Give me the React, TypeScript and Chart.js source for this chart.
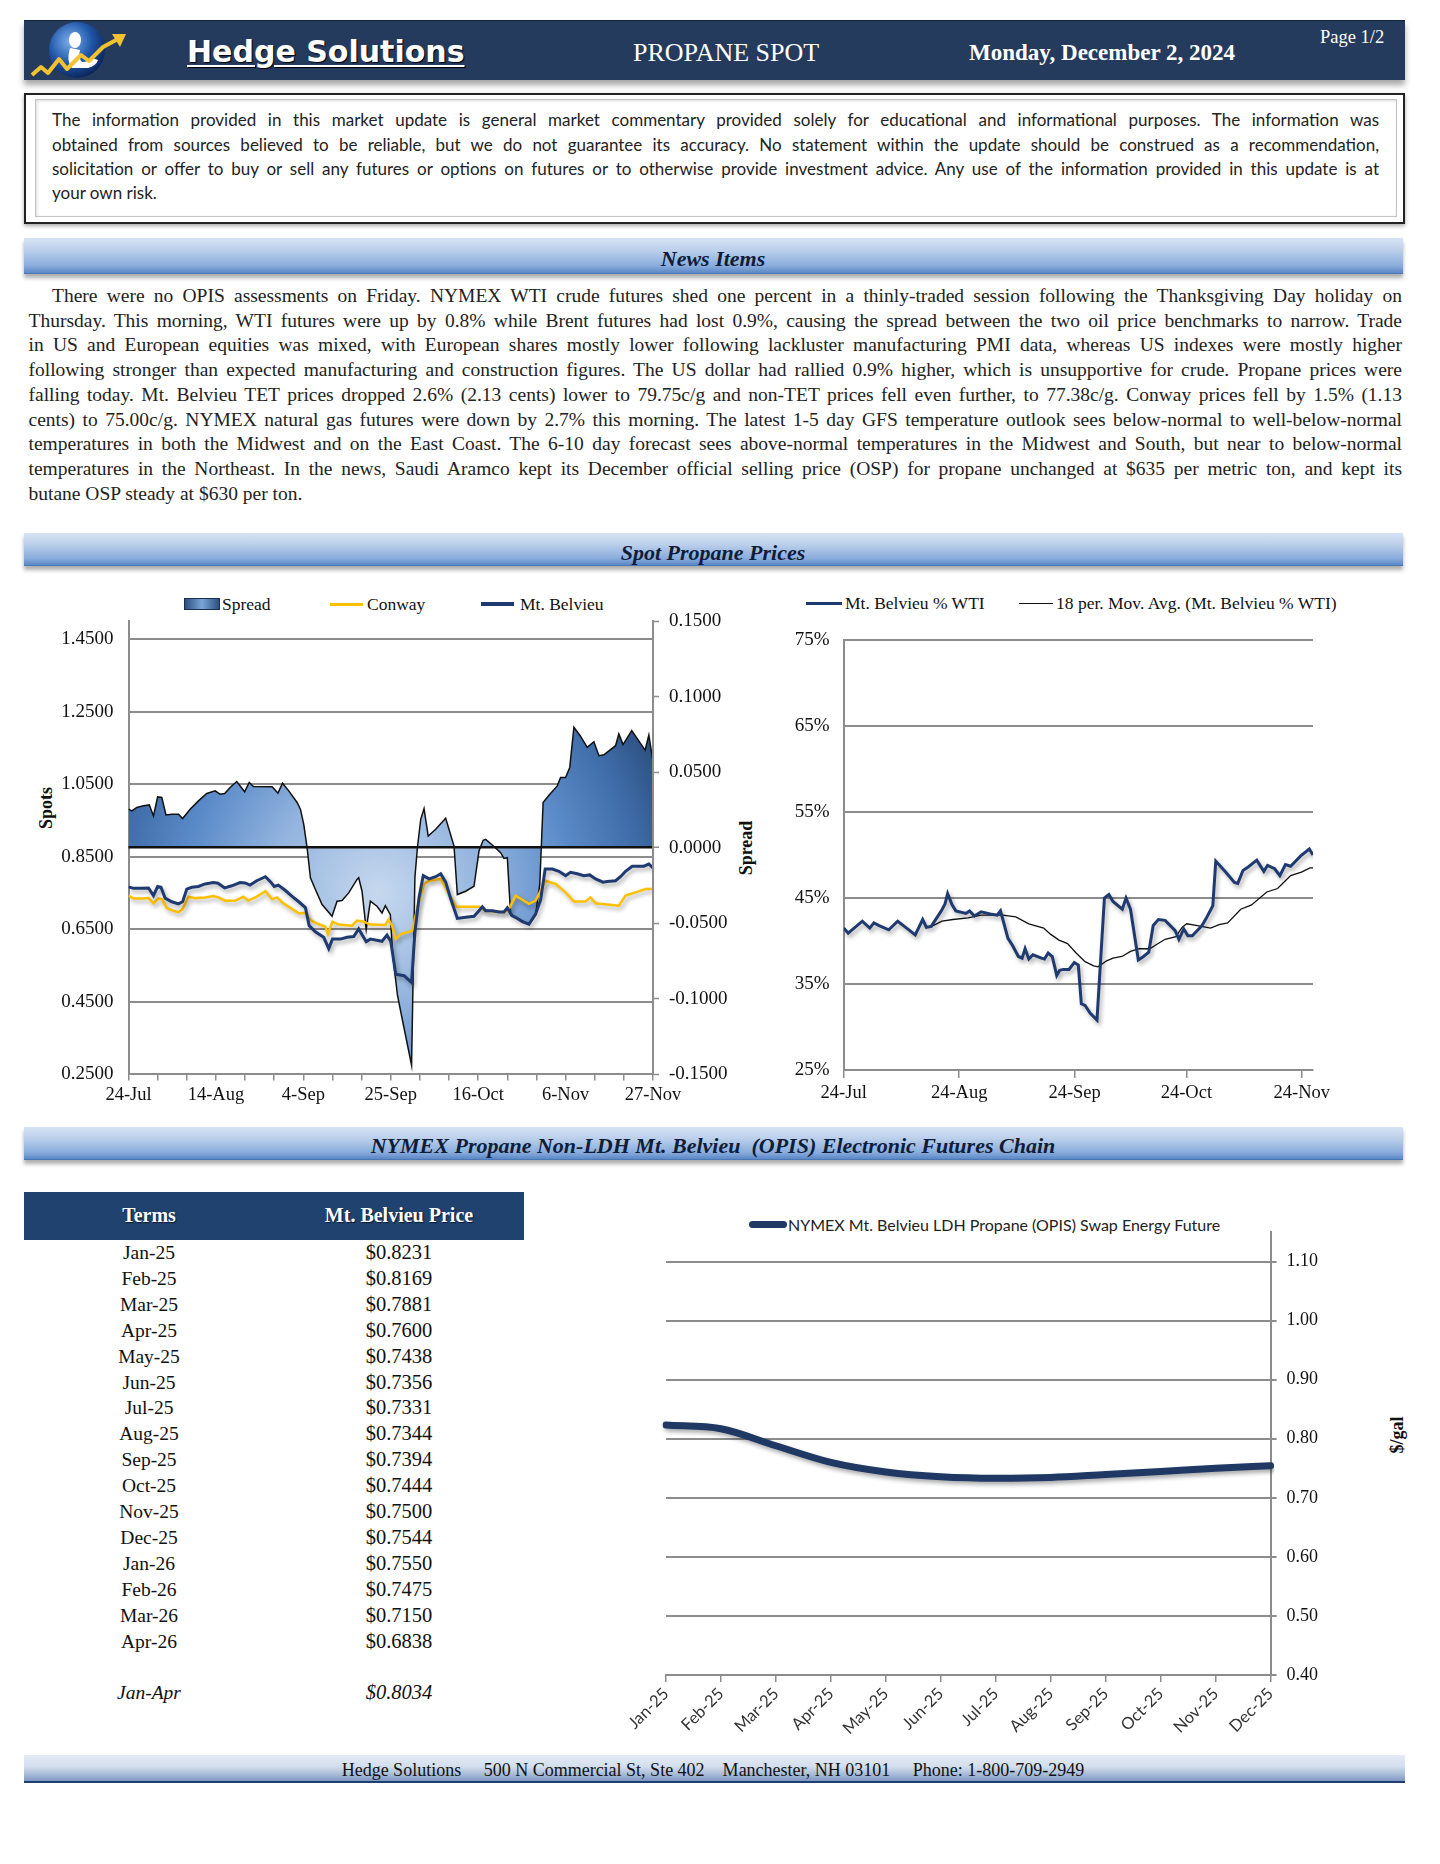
import React, { useEffect, useRef } from 'react';
import { Chart, registerables } from 'chart.js';

Chart.register(...registerables);

const SERIF = '"Liberation Serif", "Times New Roman", serif';
const SANS = 'Lato, "Open Sans", sans-serif';
const GRID = '#8c8c8c';
const NAVY = '#1f3a70';
const GOLD = '#ffc000';

Chart.defaults.font.family = SERIF;

// ---------------- Text content ----------------
const disclaimerLines = [
  'The information provided in this market update is general market commentary provided solely for educational and informational purposes.  The information was',
  'obtained from sources believed to be reliable, but we do not guarantee its accuracy.  No statement within the update should be construed as a recommendation,',
  'solicitation or offer to buy or sell any futures or options on futures or to otherwise provide investment advice.  Any use of the information provided in this update is at',
  'your own risk.',
];

const newsLines = [
  'There were no OPIS assessments on Friday. NYMEX WTI crude futures shed one percent in a thinly-traded session following the Thanksgiving Day holiday on',
  'Thursday. This morning, WTI futures were up by 0.8% while Brent futures had lost 0.9%, causing the spread between the two oil price benchmarks to narrow. Trade',
  'in US and European equities was mixed, with European shares mostly lower following lackluster manufacturing PMI data, whereas US indexes were mostly higher',
  'following stronger than expected manufacturing and construction figures. The US dollar had rallied 0.9% higher, which is unsupportive for crude. Propane prices were',
  'falling today. Mt. Belvieu TET prices dropped 2.6% (2.13 cents) lower to 79.75c/g and  non-TET prices fell even further, to 77.38c/g. Conway prices fell by 1.5% (1.13',
  'cents) to 75.00c/g. NYMEX natural gas futures were down by 2.7% this morning. The latest 1-5 day GFS temperature outlook sees below-normal to well-below-normal',
  'temperatures in both the Midwest and on the East Coast. The 6-10 day forecast sees above-normal temperatures in the Midwest and South, but near to below-normal',
  'temperatures in the Northeast. In the news, Saudi Aramco kept its December official selling price (OSP) for propane unchanged at $635 per metric ton, and kept its',
  'butane OSP steady at $630 per ton.',
];

// ---------------- Spot Propane Prices (days since 24-Jul-2024) ----------------
const spotTickDays = [0, 21, 42, 63, 84, 105, 126];
const spotTickLabels = ['24-Jul', '14-Aug', '4-Sep', '25-Sep', '16-Oct', '6-Nov', '27-Nov'];
const spotWeekTicks = [0, 7, 14, 21, 28, 35, 42, 49, 56, 63, 70, 77, 84, 91, 98, 105, 112, 119, 126];
const spotLeftTicks = [0.25, 0.45, 0.65, 0.85, 1.05, 1.25, 1.45];
const spotRightTicks = [-0.15, -0.1, -0.05, 0, 0.05, 0.1, 0.15];

const mbSpotDays = [
  0, 1.2, 3.2, 4.8, 6, 7, 7.8, 8.8, 10.4, 12,
  13, 14, 15.2, 16.8, 18.4, 20.4, 21.5, 23.1, 24.8, 26.8,
  28, 29.2, 30.8, 32.9, 34.2, 35, 36, 37.7, 39.3, 40.9,
  42.5, 43.4, 44.9, 46.9, 48.1, 49, 50.9, 52.5, 54.1, 55.3,
  57.1, 58.1, 60.9, 62.1, 63, 64.2, 66.2, 68, 68.8, 69.8,
  70.8, 72.2, 73.8, 75, 76.2, 77.4, 79, 81, 83, 84.2,
  85, 85.8, 87.4, 89, 90.2, 91, 92.1, 93.4, 94.6, 96.2,
  97.8, 99, 100.1, 101.8, 103.4, 105, 106.2, 107.8, 109.4, 110.8,
  112.2, 114, 115, 117, 118.2, 119.4, 121, 123.8, 125, 126,
];
const mbSpotValues = [
  0.767, 0.763, 0.763, 0.764, 0.743, 0.768, 0.766, 0.736, 0.726, 0.720,
  0.726, 0.761, 0.766, 0.768, 0.775, 0.779, 0.777, 0.764, 0.770, 0.779,
  0.778, 0.772, 0.784, 0.795, 0.780, 0.768, 0.772, 0.757, 0.741, 0.726,
  0.710, 0.660, 0.643, 0.628, 0.597, 0.623, 0.623, 0.628, 0.630, 0.651,
  0.616, 0.623, 0.617, 0.634, 0.617, 0.526, 0.522, 0.503, 0.641, 0.738,
  0.798, 0.789, 0.795, 0.803, 0.780, 0.734, 0.680, 0.683, 0.686, 0.701,
  0.712, 0.701, 0.701, 0.698, 0.698, 0.709, 0.688, 0.680, 0.671, 0.664,
  0.692, 0.731, 0.816, 0.816, 0.810, 0.798, 0.807, 0.803, 0.798, 0.800,
  0.789, 0.780, 0.782, 0.784, 0.795, 0.810, 0.824, 0.824, 0.830, 0.819,
];

const conwaySpotDays = [
  0, 1.2, 3.2, 4.8, 6, 7.2, 8, 9.2, 10.8, 12,
  13, 14.4, 16, 18.4, 20.4, 21.6, 23.2, 25.6, 27.6, 28.8,
  30.8, 32.9, 34.5, 35.7, 36.9, 38.9, 40.9, 42.5, 43.7, 45.3,
  47.3, 47.9, 49, 50.5, 53.7, 54.9, 56.5, 58.1, 61.7, 62.5,
  63.3, 64.2, 65.4, 68.2, 69.4, 71, 72.2, 75, 77, 78.8,
  84.2, 85.8, 90.2, 91.4, 93, 96.2, 97.8, 98.6, 100.2, 102.6,
  105, 107, 109.8, 111, 112.2, 113.8, 117.8, 119.4, 121.8, 124.2,
  126,
];
const conwaySpotValues = [
  0.743, 0.735, 0.735, 0.736, 0.722, 0.735, 0.733, 0.709, 0.701, 0.697,
  0.706, 0.740, 0.736, 0.738, 0.742, 0.738, 0.729, 0.729, 0.740, 0.729,
  0.740, 0.755, 0.733, 0.738, 0.724, 0.709, 0.694, 0.695, 0.676, 0.666,
  0.657, 0.637, 0.671, 0.663, 0.660, 0.674, 0.671, 0.663, 0.662, 0.677,
  0.660, 0.623, 0.637, 0.646, 0.711, 0.775, 0.784, 0.789, 0.747, 0.712,
  0.712, 0.701, 0.697, 0.706, 0.743, 0.720, 0.729, 0.747, 0.784, 0.775,
  0.752, 0.727, 0.727, 0.738, 0.722, 0.720, 0.715, 0.743, 0.752, 0.761,
  0.761,
];

const spreadDays = [
  0, 0.8, 2, 3.6, 5, 6, 7, 8, 9, 10.4,
  12, 13, 14.8, 16.8, 18.8, 20.8, 22, 23.1, 24.4, 26,
  27.9, 29, 30, 34.5, 35.9, 37, 38.5, 40.5, 41.3, 42.1,
  42.9, 43.7, 44.9, 46.5, 48.9, 50.1, 51.3, 52.9, 54.9, 55.3,
  56.1, 57.1, 58.1, 59.7, 60.9, 61.7, 62.9, 63.4, 64.6, 65.8,
  68, 68.8, 69.4, 70.2, 71, 72, 73.8, 76.2, 78.2, 79,
  81, 83, 84.2, 85.2, 85.8, 87.4, 89.4, 90.2, 91, 91.8,
  93.4, 96.2, 97.8, 98.8, 99.6, 101, 103, 103.8, 105, 106,
  107, 108.5, 110.2, 111.8, 113, 114.2, 117, 117.8, 118.8, 120.9,
  124.1, 125, 125.9,
];
const spreadValues = [
  0.0255, 0.0243, 0.0266, 0.0277, 0.0283, 0.0210, 0.0336, 0.0332, 0.0217, 0.0221,
  0.0221, 0.0193, 0.0255, 0.0310, 0.0359, 0.0376, 0.0354, 0.0359, 0.0398, 0.0438,
  0.0370, 0.0432, 0.0405, 0.0403, 0.0361, 0.0427, 0.0376, 0.0299, 0.0255, 0.0155,
  0.0000, -0.0199, -0.0277, -0.0376, -0.0454, -0.0354, -0.0350, -0.0299, -0.0210, -0.0199,
  -0.0288, -0.0542, -0.0354, -0.0387, -0.0432, -0.0383, -0.0443, -0.0686, -0.0974, -0.1140,
  -0.1439, -0.0199, 0.0000, 0.0188, 0.0259, 0.0077, 0.0122, 0.0195, 0.0011, -0.0310,
  -0.0288, -0.0255, -0.0022, 0.0049, 0.0055, 0.0018, -0.0033, -0.0071, -0.0066, -0.0443,
  -0.0465, -0.0509, -0.0443, -0.0243, 0.0299, 0.0347, 0.0409, 0.0465, 0.0465, 0.0531,
  0.0797, 0.0741, 0.0664, 0.0701, 0.0609, 0.0615, 0.0675, 0.0753, 0.0682, 0.0775,
  0.0646, 0.0746, 0.0587,
];

// ---------------- Mt. Belvieu % WTI ----------------
const pctTickDays = [0, 31, 62, 92, 123];
const pctTickLabels = ['24-Jul', '24-Aug', '24-Sep', '24-Oct', '24-Nov'];
const pctTicks = [25, 35, 45, 55, 65, 75];

const pctWtiDays = [
  0, 1.2, 5, 7, 8.1, 9.5, 12.1, 14.5, 16.9, 19.2,
  21.2, 22.2, 23.5, 26.2, 27.2, 27.9, 29.1, 30.1, 32.8, 33.8,
  35.1, 36.9, 39.8, 41.2, 42.1, 44.1, 45.3, 46.9, 47.9, 48.7,
  49.7, 50.8, 53.1, 53.9, 54.9, 56, 57.2, 58, 59, 60.5,
  61.9, 63, 63.8, 64.8, 66.2, 68, 70, 71.2, 72.3, 74.8,
  75.8, 77, 79.1, 80.5, 81.9, 83.1, 84.5, 86.3, 89, 90,
  91.3, 92.4, 93.6, 96.2, 97.3, 99.1, 99.9, 102.6, 104.9, 105.8,
  107.2, 108.6, 110.9, 112.8, 113.8, 115.7, 117.1, 118.6, 120, 122.7,
  125, 126,
];
const pctWtiValues = [
  41.5, 40.9, 42.3, 41.5, 42.1, 41.8, 41.3, 42.3, 41.5, 40.7,
  42.5, 41.6, 41.7, 43.5, 44.3, 45.5, 44.2, 43.5, 43.2, 43.5,
  42.9, 43.4, 43.1, 43.0, 43.5, 40.3, 39.5, 38.2, 38.0, 39.1,
  37.9, 38.4, 38.0, 37.9, 38.6, 38.2, 36.0, 36.6, 36.7, 36.7,
  37.5, 37.2, 32.7, 32.5, 31.6, 30.8, 45.0, 45.4, 44.6, 43.7,
  45.0, 43.7, 37.8, 38.2, 38.7, 41.8, 42.5, 42.4, 41.2, 40.2,
  41.4, 40.6, 40.6, 41.8, 42.6, 44.1, 49.3, 48.0, 46.8, 46.7,
  48.2, 48.6, 49.4, 48.1, 48.8, 48.4, 47.6, 48.9, 48.7, 49.9,
  50.7, 50.0,
];

const movAvgDays = [
  22.2, 24, 26.4, 29.3, 33.4, 36.9, 42.7, 46.2, 49.7, 53.7,
  55.5, 57.8, 60.1, 62.4, 64.8, 67.1, 68.3, 70.6, 72.3, 74.7,
  77, 79.3, 82.2, 84, 86.3, 89.2, 90.9, 92.1, 95, 98.5,
  100.8, 103.1, 106.6, 109.5, 113.6, 116.5, 120, 122.9, 125.2, 126,
];
const movAvgValues = [
  41.6, 41.8, 42.3, 42.5, 42.7, 43.0, 43.0, 42.8, 42.0, 41.5,
  40.8, 40.1, 39.7, 38.6, 37.6, 37.1, 37.0, 37.7, 38.0, 38.2,
  38.8, 39.1, 39.1, 39.6, 40.2, 40.5, 41.6, 42.0, 41.8, 41.5,
  41.9, 42.1, 43.7, 44.2, 45.7, 46.1, 47.6, 48.0, 48.5, 48.5,
];

// ---------------- Futures chain ----------------
const futuresTerms = ['Jan-25', 'Feb-25', 'Mar-25', 'Apr-25', 'May-25', 'Jun-25', 'Jul-25', 'Aug-25', 'Sep-25', 'Oct-25', 'Nov-25', 'Dec-25', 'Jan-26', 'Feb-26', 'Mar-26', 'Apr-26'];
const futuresPrices = [0.8231, 0.8169, 0.7881, 0.7600, 0.7438, 0.7356, 0.7331, 0.7344, 0.7394, 0.7444, 0.7500, 0.7544, 0.7550, 0.7475, 0.7150, 0.6838];
const stripLabel = 'Jan-Apr';
const stripPrice = 0.8034;
const curveMonths = futuresTerms.slice(0, 12);
const curveValues = futuresPrices.slice(0, 12);
const curveTicks = [0.4, 0.5, 0.6, 0.7, 0.8, 0.9, 1.0, 1.1];

// ---------------- helpers ----------------
const toXY = (xs: number[], ys: number[]) => xs.map((x, i) => ({ x, y: ys[i] }));

const shadowPlugin = {
  id: 'lineShadow',
  beforeDatasetDraw(chart: any, args: any) {
    const ds = chart.data.datasets[args.index];
    if (!ds.shadow) return;
    const ctx = chart.ctx;
    ctx.save();
    ctx.shadowColor = 'rgba(0,0,0,0.33)';
    ctx.shadowBlur = 4;
    ctx.shadowOffsetX = 2;
    ctx.shadowOffsetY = 3;
  },
  afterDatasetDraw(chart: any, args: any) {
    const ds = chart.data.datasets[args.index];
    if (!ds.shadow) return;
    chart.ctx.restore();
  },
};

const tickFont = { family: SERIF, size: 19 };

const spreadFill = (c: any) => {
  const chart = c.chart;
  const area = chart.chartArea;
  if (!area || !chart.scales.x || !chart.scales.y2) return '#4f7fbf';
  const cx = chart.scales.x.getPixelForValue(60);
  const cy = chart.scales.y2.getPixelForValue(-0.03);
  const g = chart.ctx.createRadialGradient(cx, cy, 0, cx, cy, 310);
  g.addColorStop(0, '#c6d8ee');
  g.addColorStop(0.35, '#93b4de');
  g.addColorStop(0.62, '#5b8bc9');
  g.addColorStop(0.85, '#3e6ba6');
  g.addColorStop(1, '#2c4f80');
  return g;
};

function buildSpot(): any {
  return {
    type: 'line',
    data: {
      datasets: [
        { label: 'Mt. Belvieu', data: toXY(mbSpotDays, mbSpotValues), yAxisID: 'y', borderColor: NAVY, borderWidth: 3, pointRadius: 0, fill: false, shadow: true },
        { label: 'Conway', data: toXY(conwaySpotDays, conwaySpotValues), yAxisID: 'y', borderColor: GOLD, borderWidth: 2.5, pointRadius: 0, fill: false, shadow: true },
        { label: 'Spread', data: toXY(spreadDays, spreadValues), yAxisID: 'y2', borderColor: '#111', borderWidth: 1.5, pointRadius: 0, fill: 'origin', backgroundColor: spreadFill },
      ],
    },
    options: {
      responsive: false,
      animation: false,
      layout: { padding: { top: 36, left: 0, right: 0, bottom: 0 } },
      plugins: { legend: { display: false }, tooltip: { enabled: false } },
      scales: {
        x: {
          type: 'linear', min: 0, max: 126,
          afterBuildTicks: (s: any) => { s.ticks = spotWeekTicks.map((v) => ({ value: v })); },
          ticks: {
            autoSkip: false, maxRotation: 0, padding: 4, font: { family: SERIF, size: 18.5 }, color: '#111',
            callback: (v: any) => { const i = spotTickDays.indexOf(v); return i >= 0 ? spotTickLabels[i] : ''; },
          },
          grid: { drawOnChartArea: false, tickLength: 6, color: GRID, lineWidth: 1.5 },
          border: { color: GRID, width: 2 },
          afterFit: (s: any) => { s.height = 40.6; },
        },
        y: {
          position: 'left', min: 0.25, max: 1.5,
          afterBuildTicks: (s: any) => { s.ticks = spotLeftTicks.map((v) => ({ value: v })); },
          ticks: { padding: 15, font: tickFont, color: '#111', callback: (v: any) => Number(v).toFixed(4) },
          grid: { color: GRID, lineWidth: 2, drawTicks: false },
          border: { color: GRID, width: 2 },
          afterFit: (s: any) => { s.width = 108.5; },
        },
        y2: {
          position: 'right', min: -0.15, max: 0.15,
          afterBuildTicks: (s: any) => { s.ticks = spotRightTicks.map((v) => ({ value: v })); },
          ticks: { padding: 10, font: tickFont, color: '#111', callback: (v: any) => Number(v).toFixed(4) },
          grid: {
            z: 1,
            color: (c: any) => (c.tick && Math.abs(c.tick.value) < 1e-9 ? '#111' : 'rgba(0,0,0,0)'),
            lineWidth: (c: any) => (c.tick && Math.abs(c.tick.value) < 1e-9 ? 2.5 : 1),
            tickColor: GRID, tickWidth: 1.5, tickLength: 6,
          },
          border: { color: GRID, width: 2, z: 1 },
          afterFit: (s: any) => { s.width = 107; },
        },
      },
    },
    plugins: [shadowPlugin],
  };
}

function buildPct(): any {
  return {
    type: 'line',
    data: {
      datasets: [
        { label: 'Mt. Belvieu % WTI', data: toXY(pctWtiDays, pctWtiValues), borderColor: NAVY, borderWidth: 3, pointRadius: 0, fill: false, shadow: true },
        { label: '18 per. Mov. Avg. (Mt. Belvieu % WTI)', data: toXY(movAvgDays, movAvgValues), borderColor: '#111', borderWidth: 1.3, pointRadius: 0, fill: false },
      ],
    },
    options: {
      responsive: false,
      animation: false,
      layout: { padding: { top: 55, right: 107, left: 0, bottom: 0 } },
      plugins: { legend: { display: false }, tooltip: { enabled: false } },
      scales: {
        x: {
          type: 'linear', min: 0, max: 126,
          afterBuildTicks: (s: any) => { s.ticks = pctTickDays.map((v) => ({ value: v })); },
          ticks: {
            autoSkip: false, maxRotation: 0, padding: 4, font: { family: SERIF, size: 18.5 }, color: '#111',
            callback: (v: any) => { const i = pctTickDays.indexOf(v); return i >= 0 ? pctTickLabels[i] : ''; },
          },
          grid: { drawOnChartArea: false, tickLength: 8, color: GRID, lineWidth: 1.5 },
          border: { color: GRID, width: 2 },
          afterFit: (s: any) => { s.height = 45; },
        },
        y: {
          min: 25, max: 75,
          afterBuildTicks: (s: any) => { s.ticks = pctTicks.map((v) => ({ value: v })); },
          ticks: { padding: 14, font: tickFont, color: '#111', callback: (v: any) => v + '%' },
          grid: { color: GRID, lineWidth: 2, drawTicks: false },
          border: { color: GRID, width: 2 },
          afterFit: (s: any) => { s.width = 73.7; },
        },
      },
    },
    plugins: [shadowPlugin],
  };
}

function buildCurve(): any {
  return {
    type: 'line',
    data: {
      labels: curveMonths,
      datasets: [
        { label: 'NYMEX Mt. Belvieu LDH Propane (OPIS) Swap Energy Future', data: curveValues, borderColor: '#1f3864', borderWidth: 7, pointRadius: 0, cubicInterpolationMode: 'monotone', fill: false, shadow: true, borderCapStyle: 'round' },
      ],
    },
    options: {
      responsive: false,
      animation: false,
      layout: { padding: { top: 37, left: 66, right: 0, bottom: 0 } },
      plugins: { legend: { display: false }, tooltip: { enabled: false } },
      scales: {
        x: {
          offset: false,
          ticks: { autoSkip: false, minRotation: 45, maxRotation: 45, padding: 2, font: { family: SANS, size: 16.5 }, color: '#333' },
          grid: { drawOnChartArea: false, tickLength: 7, color: GRID, lineWidth: 1.5 },
          border: { color: GRID, width: 2 },
          afterFit: (s: any) => { s.height = 75; },
        },
        y: {
          position: 'right', min: 0.4, max: 1.15,
          afterBuildTicks: (s: any) => { s.ticks = curveTicks.map((v) => ({ value: v })); },
          ticks: { padding: 10, font: { family: SERIF, size: 18 }, color: '#111', callback: (v: any) => Number(v).toFixed(2) },
          grid: { color: GRID, lineWidth: 2, tickLength: 6 },
          border: { color: GRID, width: 2 },
          afterFit: (s: any) => { s.width = 169.4; },
        },
      },
    },
    plugins: [shadowPlugin],
  };
}

function ChartBox({ left, top, width, height, build }: any) {
  const ref = useRef<HTMLCanvasElement>(null);
  useEffect(() => {
    const chart = new Chart(ref.current as HTMLCanvasElement, build());
    return () => chart.destroy();
  }, []);
  return <canvas ref={ref} width={width} height={height} style={{ position: 'absolute', left, top, width, height }} />;
}

// Absolutely positioned text, y = vertical centre
function T({ x, y, children, size = 16, family = SERIF, weight = 'normal', italic = false, color = '#111', align = 'left', shadow }: any) {
  const lh = Math.round(size * 1.5);
  const st: any = {
    position: 'absolute', top: y - lh / 2, height: lh, lineHeight: lh + 'px', fontSize: size, fontFamily: family,
    fontWeight: weight, fontStyle: italic ? 'italic' : 'normal', color, whiteSpace: 'pre', textShadow: shadow,
  };
  if (align === 'left') st.left = x;
  else if (align === 'center') { st.left = x - 400; st.width = 800; st.textAlign = 'center'; }
  else { st.left = x - 800; st.width = 800; st.textAlign = 'right'; }
  return <div style={st}>{children}</div>;
}

function VText({ x, y, children, size = 18 }: any) {
  return (
    <div style={{ position: 'absolute', left: x - 60, top: y - 13, width: 120, height: 26, lineHeight: '26px', textAlign: 'center', transform: 'rotate(-90deg)', fontFamily: SERIF, fontWeight: 'bold', fontSize: size, color: '#111' }}>
      {children}
    </div>
  );
}

function SectionBar({ top, height, title, textY }: any) {
  return (
    <>
      <div style={{ position: 'absolute', left: 24, top, width: 1379, height, background: 'linear-gradient(to bottom, #d6e3f4 0%, #bcd0eb 35%, #88abdb 80%, #5b88c6 100%)', boxShadow: '0 4px 4px rgba(0,0,0,0.32)', borderBottom: '1px solid #4a77b6', boxSizing: 'border-box' }} />
      <T x={713} y={textY} align="center" size={22} weight="bold" italic color="#0f1d3a">{title}</T>
    </>
  );
}

function JustLine({ left, width, y, text, size, family, lh, last }: any) {
  return (
    <div style={{ position: 'absolute', left, top: y - lh / 2, width, height: lh, lineHeight: lh + 'px', fontSize: size, fontFamily: family, textAlign: last ? 'left' : 'justify', textAlignLast: last ? 'left' : 'justify', color: '#222' }}>
      {text}
    </div>
  );
}

function Logo() {
  return (
    <svg width={110} height={64} style={{ position: 'absolute', left: 26, top: 18 }}>
      <defs>
        <radialGradient id="glb" cx="38%" cy="35%" r="70%">
          <stop offset="0" stopColor="#7fb0ee" />
          <stop offset="0.55" stopColor="#1f56a8" />
          <stop offset="1" stopColor="#0a2256" />
        </radialGradient>
      </defs>
      <circle cx={51} cy={32} r={28} fill="url(#glb)" />
      <ellipse cx={49} cy={22} rx={6} ry={8} fill="#fff" />
      <path d="M44 30 Q40 44 46 50 L62 50 Q70 48 72 42 L66 40 Q62 44 56 44 Q52 40 54 32 Z" fill="#fff" />
      <polyline points="6,57 15,49 22,55 33,41 41,51 55,37 63,43 77,29 92,21" stroke="#f2c230" strokeWidth={4} fill="none" strokeLinejoin="round" />
      <polygon points="86,16 100,16 94,29" fill="#f2c230" />
    </svg>
  );
}

export default function App() {
  const disclaimerY = [120, 145, 169, 193];
  return (
    <div style={{ position: 'absolute', left: 0, top: 0, width: 1440, height: 1864, background: '#fff', overflow: 'hidden', fontFamily: SERIF, color: '#111' }}>
      {/* Header */}
      <div style={{ position: 'absolute', left: 24, top: 20, width: 1381, height: 60, background: '#253b5e', borderTop: '1px solid #14223a', boxShadow: '0 5px 6px rgba(0,0,0,0.35)', boxSizing: 'border-box' }} />
      <Logo />
      <T x={187} y={51} size={30} family='"DejaVu Sans", Verdana, sans-serif' weight="bold" color="#fff" shadow="1px 1px 1px #000">
        <span style={{ textDecoration: 'underline', textUnderlineOffset: 3, textDecorationThickness: 2 }}>Hedge Solutions</span>
      </T>
      <T x={633} y={52} size={26} color="#fff">PROPANE SPOT</T>
      <T x={969} y={52} size={23} weight="bold" color="#fff">Monday, December 2, 2024</T>
      <T x={1320} y={37} size={18.5} color="#fff">Page 1/2</T>

      {/* Disclaimer */}
      <div style={{ position: 'absolute', left: 24, top: 93, width: 1381, height: 131, border: '2.5px solid #222', boxShadow: '0 2px 4px rgba(0,0,0,0.35)', boxSizing: 'border-box' }} />
      <div style={{ position: 'absolute', left: 35, top: 99, width: 1362, height: 118, border: '1.5px solid #c4c4c4', boxShadow: 'inset 1px 1px 3px rgba(0,0,0,0.15)', boxSizing: 'border-box' }} />
      {disclaimerLines.map((l, i) => (
        <JustLine key={i} left={52} width={1327} y={disclaimerY[i]} text={l} size={17} family={SANS} lh={22} last={i === disclaimerLines.length - 1} />
      ))}

      {/* News */}
      <SectionBar top={238} height={36} title="News Items" textY={258} />
      {newsLines.map((l, i) => (
        <JustLine key={i} left={i === 0 ? 52 : 28.5} width={i === 0 ? 1350 : 1373.5} y={296 + 24.7 * i} text={l} size={19.5} family={SERIF} lh={24} last={i === newsLines.length - 1} />
      ))}

      {/* Spot Propane Prices */}
      <SectionBar top={533} height={33} title="Spot Propane Prices" textY={552} />

      {/* left chart legend */}
      <div style={{ position: 'absolute', left: 184, top: 598, width: 36, height: 12, background: 'linear-gradient(to right, #2c4f80, #7aa4d8 50%, #2c4f80)', border: '1px solid #1a2f50', boxSizing: 'border-box' }} />
      <T x={222} y={604} size={17.5}>Spread</T>
      <div style={{ position: 'absolute', left: 330, top: 602.5, width: 33, height: 3, background: GOLD }} />
      <T x={367} y={604} size={17.5}>Conway</T>
      <div style={{ position: 'absolute', left: 481, top: 602, width: 33, height: 3.5, background: NAVY }} />
      <T x={520} y={604} size={17.5}>Mt. Belvieu</T>
      <VText x={46} y={808}>Spots</VText>
      <VText x={746} y={848}>Spread</VText>
      <ChartBox left={20} top={585} width={740} height={530} build={buildSpot} />

      {/* right chart legend */}
      <div style={{ position: 'absolute', left: 806, top: 601.5, width: 36, height: 3, background: NAVY }} />
      <T x={845} y={603} size={17.5}>Mt. Belvieu % WTI</T>
      <div style={{ position: 'absolute', left: 1019, top: 602.5, width: 34, height: 1.5, background: '#111' }} />
      <T x={1056} y={603} size={17.5}>18 per. Mov. Avg. (Mt. Belvieu % WTI)</T>
      <ChartBox left={770} top={585} width={650} height={530} build={buildPct} />

      {/* Futures chain */}
      <SectionBar top={1127} height={33} title="NYMEX Propane Non-LDH Mt. Belvieu  (OPIS) Electronic Futures Chain" textY={1145} />
      <div style={{ position: 'absolute', left: 24, top: 1192, width: 500, height: 48, background: '#20426f' }} />
      <T x={149} y={1215} align="center" size={20} weight="bold" color="#fff" shadow="1px 1px 1px #0b1a33">Terms</T>
      <T x={399} y={1215} align="center" size={20} weight="bold" color="#fff" shadow="1px 1px 1px #0b1a33">Mt. Belvieu Price</T>
      {futuresTerms.map((t, i) => (
        <React.Fragment key={t}>
          <T x={149} y={1252.5 + 25.9 * i} align="center" size={19.5}>{t}</T>
          <T x={399} y={1252.5 + 25.9 * i} align="center" size={20.5}>{'$' + futuresPrices[i].toFixed(4)}</T>
        </React.Fragment>
      ))}
      <T x={149} y={1692} align="center" size={19.5} italic>{stripLabel}</T>
      <T x={399} y={1692} align="center" size={20.5} italic>{'$' + stripPrice.toFixed(4)}</T>

      {/* Curve chart */}
      <div style={{ position: 'absolute', left: 749, top: 1221, width: 38, height: 7, borderRadius: 4, background: '#1f3864' }} />
      <T x={788} y={1225} size={16} family={SANS} color="#222">NYMEX Mt. Belvieu LDH Propane (OPIS) Swap Energy Future</T>
      <VText x={1397} y={1435}>$/gal</VText>
      <ChartBox left={600} top={1195} width={840} height={555} build={buildCurve} />

      {/* Footer */}
      <div style={{ position: 'absolute', left: 24, top: 1755, width: 1381, height: 28, background: 'linear-gradient(to bottom, #e4ebf5 0%, #d3deed 45%, #9fb4d3 80%, #7b97c1 100%)', borderBottom: '2.5px solid #1f3f73', boxSizing: 'border-box' }} />
      <T x={713} y={1770} align="center" size={18} color="#111">{'Hedge Solutions     500 N Commercial St, Ste 402    Manchester, NH 03101     Phone: 1-800-709-2949'}</T>
    </div>
  );
}
